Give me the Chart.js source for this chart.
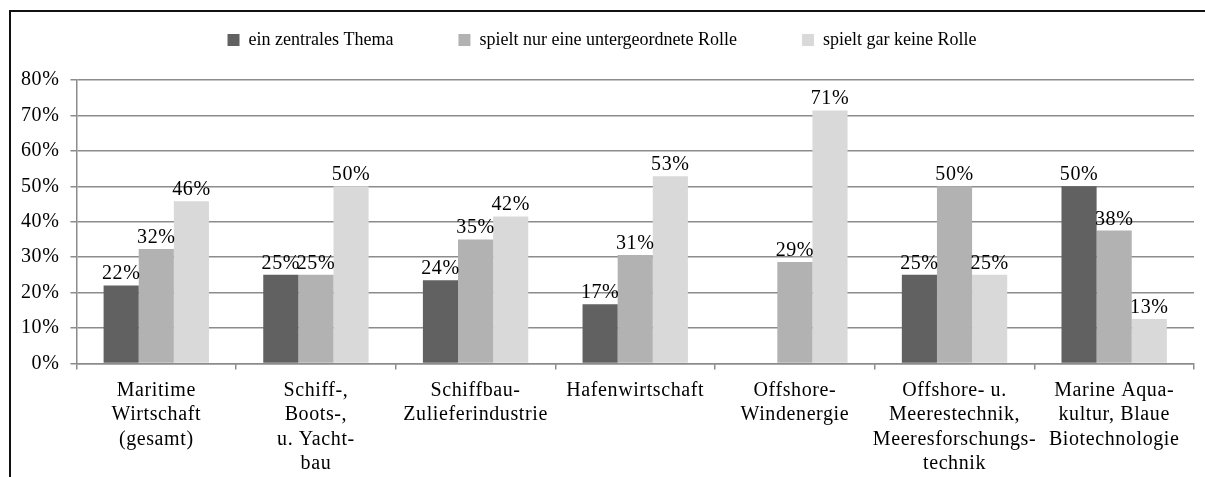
<!DOCTYPE html>
<html>
<head>
<meta charset="utf-8">
<script src="https://cdn.jsdelivr.net/npm/chart.js@4.4.0/dist/chart.umd.min.js"></script>
<style>
  html, body { margin: 0; padding: 0; background: #fff; }
  #wrap { width: 1205px; height: 477px; position: relative; }
</style>
</head>
<body>
<div id="wrap"><canvas id="maritimeChart"></canvas></div>
<script>
// categories (multi-line labels as in the original)
const categories = [
  ['Maritime', 'Wirtschaft', '(gesamt)'],
  ['Schiff-,', 'Boots-,', 'u. Yacht-', 'bau'],
  ['Schiffbau-', 'Zulieferindustrie'],
  'Hafenwirtschaft',
  ['Offshore-', 'Windenergie'],
  ['Offshore- u.', 'Meerestechnik,', 'Meeresforschungs-', 'technik'],
  ['Marine Aqua-', 'kultur, Blaue', 'Biotechnologie']
];

const seriesNames = ['ein zentrales Thema', 'spielt nur eine untergeordnete Rolle', 'spielt gar keine Rolle'];

// percent values per series
const zentral       = [22, 25, 23.5, 16.7, 0, 25, 50];
const untergeordnet = [32.3, 25, 35, 30.6, 28.6, 50, 37.5];
const keineRolle    = [45.8, 50, 41.5, 52.8, 71.4, 25, 12.5];

const yTicks = [0, 10, 20, 30, 40, 50, 60, 70, 80];

const serif = "'Liberation Serif', 'Times New Roman', serif";
const SP = '0.6px';
const LEGEND_PAD = 65;

// axis and value text in the original is set a bit loose, the legend is not
const spacing = {
  id: 'spacing',
  beforeUpdate(chart) { chart.ctx.letterSpacing = SP; },
  beforeLayout(chart) {
    chart.ctx.letterSpacing = SP;
    const lg = chart.legend;
    if (lg && !lg._patched) {
      const fit = lg.fit.bind(lg);
      const draw = lg.draw.bind(lg);
      lg.fit = function () {
        chart.ctx.letterSpacing = '0px';
        fit();
        chart.ctx.letterSpacing = SP;
        this.height = 80 + LEGEND_PAD - 31;
      };
      lg.draw = function () {
        chart.ctx.letterSpacing = '0px';
        draw();
        chart.ctx.letterSpacing = SP;
      };
      lg._patched = true;
    }
  },
  beforeDraw(chart) { chart.ctx.letterSpacing = SP; }
};

// frame: only top and left edge are visible in the original
const framePlugin = {
  id: 'frame',
  beforeDraw(chart) {
    const c = chart.ctx;
    c.save();
    c.strokeStyle = '#111';
    c.lineWidth = 2;
    c.beginPath();
    c.moveTo(10, chart.height);
    c.lineTo(10, 11);
    c.lineTo(chart.width, 11);
    c.stroke();
    c.restore();
  }
};

// value labels on top of each bar
const valueLabels = {
  id: 'valueLabels',
  afterDatasetsDraw(chart) {
    const c = chart.ctx;
    c.save();
    c.font = '20px ' + serif;
    c.fillStyle = '#000';
    c.textAlign = 'center';
    c.textBaseline = 'alphabetic';
    chart.data.datasets.forEach((ds, i) => {
      chart.getDatasetMeta(i).data.forEach((bar, j) => {
        const v = ds.data[j];
        if (!v) return;
        c.fillText(Math.round(v) + '%', bar.x, bar.y - 6);
      });
    });
    c.restore();
  }
};

new Chart(document.getElementById('maritimeChart'), {
  type: 'bar',
  data: {
    labels: categories,
    datasets: [
      { label: seriesNames[0], data: zentral, backgroundColor: '#616161' },
      { label: seriesNames[1], data: untergeordnet, backgroundColor: '#b2b2b2' },
      { label: seriesNames[2], data: keineRolle, backgroundColor: '#d9d9d9' }
    ]
  },
  options: {
    responsive: true,
    maintainAspectRatio: false,
    animation: false,
    categoryPercentage: 0.66,
    barPercentage: 1.0,
    layout: { padding: { top: 31 - LEGEND_PAD, left: 10, right: 11, bottom: -8 } },
    plugins: {
      legend: {
        position: 'top',
        labels: {
          boxWidth: 12,
          boxHeight: 12,
          padding: LEGEND_PAD,
          color: '#000',
          font: { family: serif, size: 18 }
        }
      },
      tooltip: { enabled: false }
    },
    scales: {
      x: {
        grid: {
          drawOnChartArea: false,
          drawTicks: true,
          tickLength: 6,
          color: '#8c8c8c',
          lineWidth: 1.5
        },
        border: { color: '#8c8c8c', width: 1.5 },
        ticks: {
          color: '#000',
          maxRotation: 0,
          autoSkip: false,
          padding: 9,
          font: { family: serif, size: 20, lineHeight: 1.22 }
        }
      },
      y: {
        min: 0,
        max: 80,
        afterBuildTicks(scale) {
          scale.ticks = yTicks.map(v => ({ value: v }));
        },
        grid: {
          color: '#8c8c8c',
          lineWidth: 1.5,
          tickLength: 6
        },
        border: { color: '#8c8c8c', width: 1.5 },
        ticks: {
          color: '#000',
          padding: 11,
          font: { family: serif, size: 20 },
          callback: v => v + '%'
        }
      }
    }
  },
  plugins: [spacing, framePlugin, valueLabels]
});
</script>
</body>
</html>
